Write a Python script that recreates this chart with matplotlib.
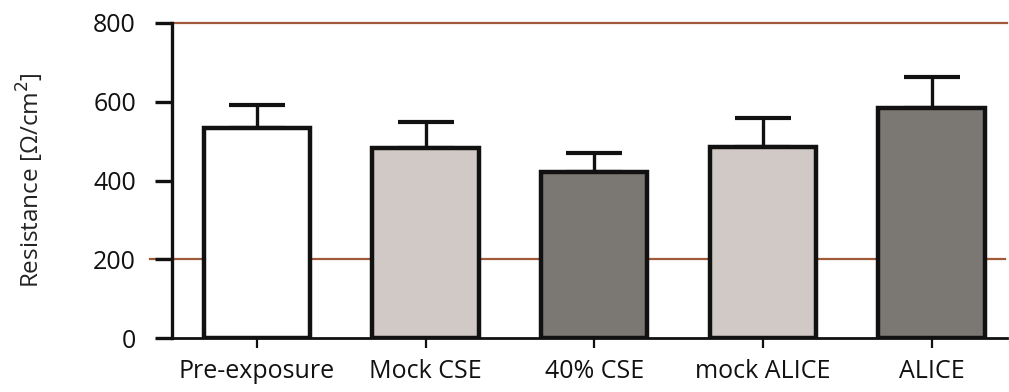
import numpy as np
import matplotlib
matplotlib.use('Agg')
import matplotlib.pyplot as plt

plt.rcParams['font.family'] = ['Open Sans', 'DejaVu Sans']

# TEER per exposure condition (mean + SD, upward bars only)
groups = ['Pre-exposure', 'Mock CSE', '40% CSE', 'mock ALICE', 'ALICE']
resistance = [532, 482, 422, 484, 583]
sd_up = [59, 66, 48, 75, 80]
fills = ['#ffffff', '#d0c9c5', '#7b7873', '#d0c9c5', '#7b7873']

# threshold lines
ref_levels = [200, 800]
ref_color = '#a05a3a'

fig = plt.figure(figsize=(10.09, 3.92), dpi=100)
ax = fig.add_axes([0.1705, 0.137, 0.828, 0.805])

x = np.arange(len(groups))

# reference lines behind the bars; the lower one pokes out past the spine
ax.plot([-0.026, 0.997], [ref_levels[0]] * 2, color=ref_color, lw=1.6,
        transform=ax.get_yaxis_transform(), clip_on=False, zorder=0)
ax.plot([0.0, 1.0], [ref_levels[1]] * 2, color=ref_color, lw=1.6,
        transform=ax.get_yaxis_transform(), clip_on=False, zorder=0)

ax.errorbar(x, resistance, yerr=[np.zeros(len(sd_up)), sd_up], fmt='none',
            ecolor='#111111', elinewidth=2.4, capsize=20.5, capthick=3.0,
            zorder=1)
ax.bar(x, resistance, width=0.63, color=fills, edgecolor='#111111',
       linewidth=3.2, zorder=2)

ax.set_xlim(-0.503, 4.45)
ax.set_ylim(0, 800)
ax.set_yticks([0, 200, 400, 600, 800])
ax.set_xticks(x)
ax.set_xticklabels(groups)

for side in ['top', 'right']:
    ax.spines[side].set_visible(False)
ax.spines['left'].set_linewidth(2.4)
ax.spines['bottom'].set_linewidth(2.0)
ax.spines['left'].set_color('#111111')
ax.spines['bottom'].set_color('#111111')

ax.tick_params(axis='y', direction='out', length=12, width=2.4,
               labelsize=18, pad=14, colors='#111111')
ax.tick_params(axis='x', direction='out', length=7, width=1.6,
               labelsize=18, pad=8, colors='#111111')

ax.set_ylabel('Resistance [Ω/cm$^2$]', fontsize=17.5, labelpad=34,
              color='#222222')

fig.savefig('out.png', dpi=100)
